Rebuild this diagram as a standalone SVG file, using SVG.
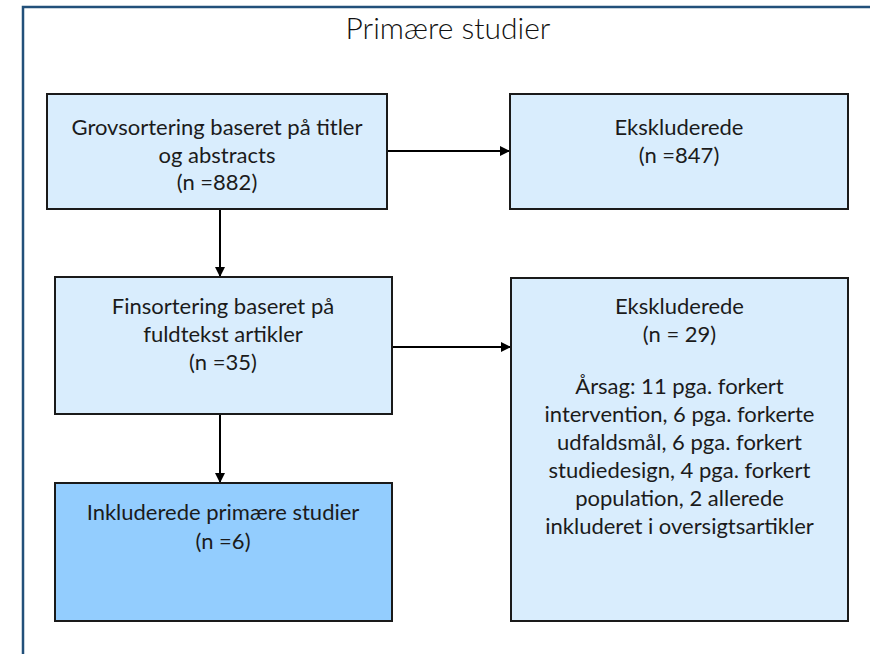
<svg xmlns="http://www.w3.org/2000/svg" width="870" height="654" viewBox="0 0 870 654">
<style>
.box{fill:#d9edfd;stroke:#1a1a1a;stroke-width:2}
.box.inc{fill:#93cdfe}
.t{font-family:Lato,"Liberation Sans",sans-serif;font-size:22px;fill:#1b1b1b;text-anchor:middle}
.title{font-family:Lato,"Open Sans",sans-serif;font-weight:300;font-size:30px;fill:#111;text-anchor:middle}
.c{stroke:#000;stroke-width:2;fill:none;marker-end:url(#ah)}
</style>
<defs>
<marker id="ah" viewBox="0 0 10 10" refX="10" refY="5" markerWidth="10" markerHeight="10" markerUnits="userSpaceOnUse" orient="auto">
<path d="M0,0 L10,5 L0,10 Z" fill="#000"/>
</marker>
</defs>
<rect width="870" height="654" fill="#fff"/>
<rect x="23" y="7" width="900" height="700" fill="none" stroke="#22507a" stroke-width="2.5"/>
<text class="title" x="448" y="39">Primære studier</text>
<g id="connectors">
<line class="c" x1="387" y1="151" x2="510" y2="151"/>
<line class="c" x1="220" y1="209" x2="220" y2="277"/>
<line class="c" x1="392" y1="347" x2="511" y2="347"/>
<line class="c" x1="220" y1="414" x2="220" y2="483"/>
</g>
<g id="grovsortering">
<rect class="box" x="47" y="94" width="340" height="115"/>
<text class="t" x="217" y="135">Grovsortering baseret på titler</text>
<text class="t" x="217" y="162.5">og abstracts</text>
<text class="t" x="217" y="190">(n =882)</text>
</g>
<g id="ekskluderede1">
<rect class="box" x="510" y="94" width="338" height="115"/>
<text class="t" x="679" y="135">Ekskluderede</text>
<text class="t" x="679" y="162.5">(n =847)</text>
</g>
<g id="finsortering">
<rect class="box" x="55" y="277" width="337" height="137"/>
<text class="t" x="223" y="313.5">Finsortering baseret på</text>
<text class="t" x="223" y="341.5">fuldtekst artikler</text>
<text class="t" x="223" y="369.5">(n =35)</text>
</g>
<g id="ekskluderede2">
<rect class="box" x="511" y="278" width="337" height="343"/>
<text class="t" x="679.5" y="314">Ekskluderede</text>
<text class="t" x="679.5" y="342">(n = 29)</text>
<text class="t" x="679.5" y="394">Årsag: 11 pga. forkert</text>
<text class="t" x="679.5" y="422">intervention, 6 pga. forkerte</text>
<text class="t" x="679.5" y="450">udfaldsmål, 6 pga. forkert</text>
<text class="t" x="679.5" y="478">studiedesign, 4 pga. forkert</text>
<text class="t" x="679.5" y="506">population, 2 allerede</text>
<text class="t" x="679.5" y="534">inkluderet i oversigtsartikler</text>
</g>
<g id="inkluderede">
<rect class="box inc" x="55" y="483" width="337" height="138"/>
<text class="t" x="223" y="520">Inkluderede primære studier</text>
<text class="t" x="223" y="549">(n =6)</text>
</g>
</svg>
